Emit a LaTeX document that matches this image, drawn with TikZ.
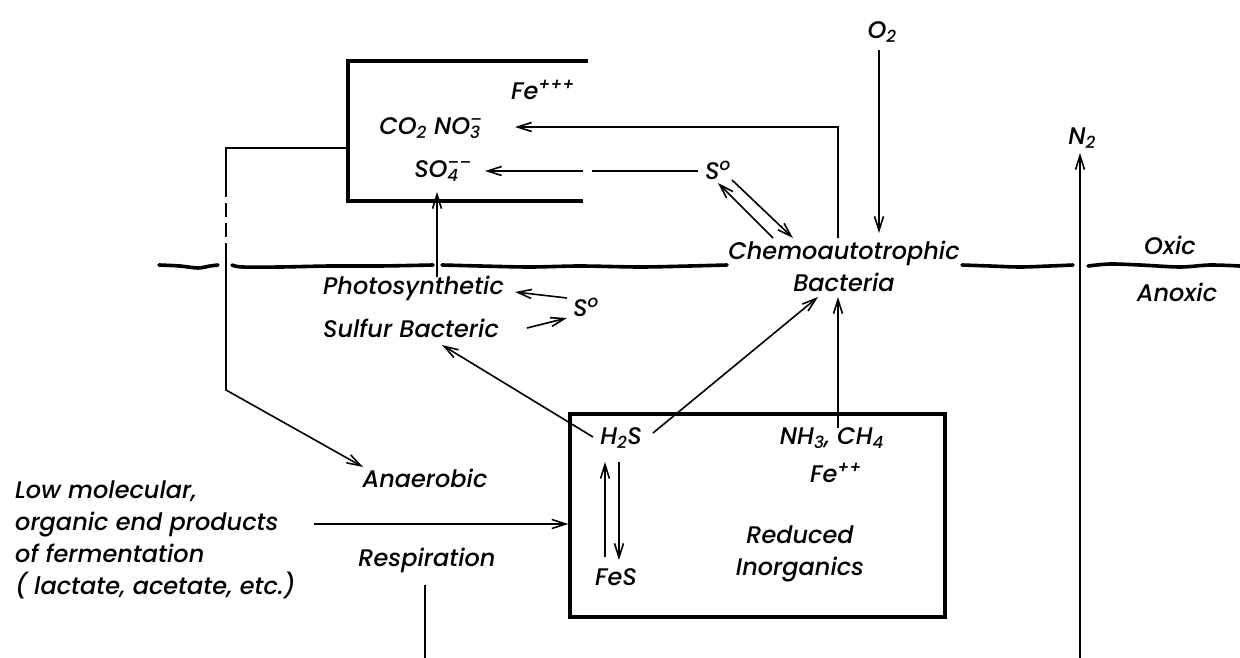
\documentclass[tikz,border=0pt]{standalone}
\usepackage{fontspec}
\setmainfont{Poppins}[ItalicFont={* Medium Italic}]
\usetikzlibrary{arrows.meta}
\newsavebox\subbx
\newsavebox\supbx
\newcommand\subsupx[2]{\sbox\subbx{\textsubscript{#1}}\sbox\supbx{\textsuperscript{#2}}\rlap{\usebox\subbx}\usebox\supbx\ifdim\wd\subbx>\wd\supbx\kern\dimexpr\wd\subbx-\wd\supbx\relax\fi}
\tikzset{
  lbl/.style={font=\fontsize{24}{32}\selectfont\itshape, inner sep=0pt},
  ln/.style={line width=1.6pt},
  arr/.style={line width=1.6pt, -{Straight Barb[length=14pt,width=9pt,line width=1.6pt]}},
  boxline/.style={line width=3.2pt},
  wave/.style={line width=3.6pt, line cap=round, line join=round},
}
\begin{document}
\begin{tikzpicture}[x=1pt,y=-1pt]
\useasboundingbox (0,0) rectangle (1240,658);

% ---- labels ----
\node[lbl] (o2) at (882,32) {O\textsubscript{2}};
\node[lbl] (fe3) at (543,90) {Fe\textsuperscript{+++}};
\node[lbl] (co2) at (431,128) {CO\textsubscript{2} NO\subsupx{3}{–}};
\node[lbl] (so4) at (443,171) {SO\subsupx{4}{––}};
\node[lbl] (s0a) at (718,170) {S\textsuperscript{o}};
\node[lbl, align=center] (chemo) at (844,266) {Chemoautotrophic\\Bacteria};
\node[lbl] (n2) at (1082,138) {N\textsubscript{2}};
\node[lbl] (oxic) at (1170,245) {Oxic};
\node[lbl] (anoxic) at (1177,292) {Anoxic};
\node[lbl, anchor=west] (photo) at (323,288) {Photosynthetic};
\node[lbl, anchor=west] (sulfur) at (323,328) {Sulfur Bacteric};
\node[lbl] (s0b) at (586,307) {S\textsuperscript{o}};
\node[lbl] (anaer) at (425,478) {Anaerobic};
\node[lbl] (resp) at (427,560) {Respiration};
\node[lbl, align=left, anchor=west] (lowmol) at (15,540) {Low molecular,\\organic end products\\of fermentation\\( lactate, acetate, etc.)};

% ---- reduced inorganics box ----
\node[draw, boxline, minimum width=375pt, minimum height=203pt, inner sep=0pt] (rbox) at (757.5,515.5) {};
\node[lbl] (h2s) at (621,438) {H\textsubscript{2}S};
\node[lbl] (fes) at (616,577) {FeS};
\node[lbl] (nh3) at (832,438) {NH\textsubscript{3}, CH\textsubscript{4}};
\node[lbl] (fe2) at (836,473) {Fe\textsuperscript{++}};
\node[lbl, align=center] (redinorg) at (800,554) {Reduced\\Inorganics};

% ---- oxidized box (open to the right) ----
\coordinate (tbTR) at (588,61);
\coordinate (tbTL) at (348,61);
\coordinate (tbBL) at (348,201);
\coordinate (tbBR) at (583,201);
\draw[boxline] (tbTR) -- (tbTL) -- (tbBL) -- (tbBR);

% ---- oxic / anoxic interface ----
\draw[wave] plot[smooth] coordinates {(159,265) (180,266) (198,268) (210,266) (218,265)};
\draw[wave] plot[smooth] coordinates {(232,265) (242,267) (280,267) (330,266) (380,266) (433,265)};
\draw[wave] plot[smooth] coordinates {(442,265) (480,266) (530,267) (580,266) (640,267) (690,266) (727,265)};
\draw[wave] plot[smooth] coordinates {(962,265) (990,266) (1020,267) (1050,266) (1073,265)};
\draw[wave] plot[smooth] coordinates {(1088,266) (1110,264) (1140,265) (1180,267) (1210,265) (1240,266)};

% ---- coordinates for connector ends ----
\coordinate (o2s) at (879,50);
\coordinate (o2t) at (879,233);
\coordinate (chemoL) at (838,238);
\coordinate (co2corner) at (838,127);
\coordinate (co2t) at (515,127);
\coordinate (s0aw) at (698,171);
\coordinate (gapR) at (592,171);
\coordinate (gapL) at (583,171);
\coordinate (so4t) at (485,171);
\coordinate (cA1) at (773,238);
\coordinate (s0aA) at (718,183);
\coordinate (s0aB) at (732,180);
\coordinate (cB2) at (793,238);
\coordinate (photoN) at (437,277);
\coordinate (so4s) at (437,192);
\coordinate (s0b1) at (567,298);
\coordinate (photoE) at (515,292);
\coordinate (sulfE) at (527,328);
\coordinate (s0b2) at (567,318);
\coordinate (h2sW) at (593,437);
\coordinate (sulfS) at (442,345);
\coordinate (h2sE) at (653,433);
\coordinate (bactS) at (818,297);
\coordinate (nh3N) at (838,428);
\coordinate (bactS2) at (838,297);
\coordinate (fesUp1) at (605,557);
\coordinate (h2sUp) at (605,462);
\coordinate (h2sDn) at (619,462);
\coordinate (fesDn) at (619,560);
\coordinate (lm) at (314,524);
\coordinate (respS) at (425,585);
\coordinate (respB) at (425,658);
\coordinate (n2B) at (1080,658);
\coordinate (n2t) at (1080,153);
\coordinate (lbTop) at (348,148);
\coordinate (lbCorner) at (226,148);
\coordinate (dashA) at (226,183);
\coordinate (dashB) at (226,247);
\coordinate (lbBend) at (226,390);
\coordinate (anaerT) at (363,467);

% ---- connectors ----
\draw[arr] (o2s) -- (o2t);
\draw[arr] (chemoL) -- (co2corner) -- (co2t);
\draw[ln] (s0aw) -- (gapR);
\draw[arr] (gapL) -- (so4t);
\draw[arr] (cA1) -- (s0aA);
\draw[arr] (s0aB) -- (cB2);
\draw[arr] (photoN) -- (so4s);
\draw[arr] (s0b1) -- (photoE);
\draw[arr] (sulfE) -- (s0b2);
\draw[arr] (h2sW) -- (sulfS);
\draw[arr] (h2sE) -- (bactS);
\draw[arr] (nh3N) -- (bactS2);
\draw[arr] (fesUp1) -- (h2sUp);
\draw[arr] (h2sDn) -- (fesDn);
\draw[arr] (lm) -- (rbox.west |- lm);
\draw[ln] (respS) -- (respB);
\draw[arr] (n2B) -- (n2t);
\draw[ln] (lbTop) -- (lbCorner) -- (dashA);
\draw[ln, dash pattern=on 14pt off 6pt] (dashA) -- (dashB);
\draw[arr] (dashB) -- (lbBend) -- (anaerT);
\end{tikzpicture}
\end{document}
